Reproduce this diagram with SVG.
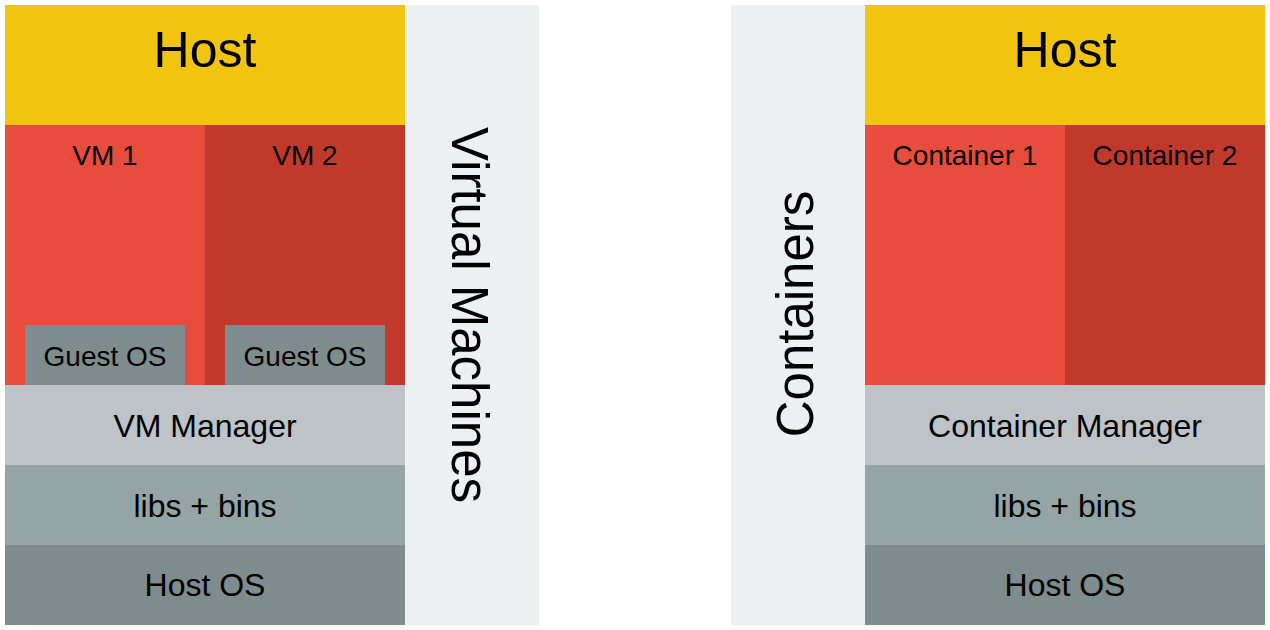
<svg xmlns="http://www.w3.org/2000/svg" width="1270" height="630" viewBox="0 0 1270 630">
<style>
text{font-family:"Liberation Sans",Arial,sans-serif;fill:#000;text-anchor:middle}
.big{font-size:50px}
.vert{font-size:51px}
.mid{font-size:32px}
.sm{font-size:28px}
.host{fill:#f1c40f}
.r1{fill:#e74c3c}
.r2{fill:#c0392b}
.guest{fill:#7f8c8d}
.mgr{fill:#bdc3c7}
.libs{fill:#95a5a6}
.hos{fill:#7f8c8d}
.side{fill:#ecf0f1}
</style>
<rect width="1270" height="630" fill="#fff"/>
<g id="vm-side"><rect class="side" x="405" y="5" width="134" height="620"/><text class="vert" transform="translate(452,315) rotate(90)">Virtual Machines</text></g>
<g id="vm-host"><rect class="host" x="5" y="5" width="400" height="120"/><text class="big" x="205" y="67">Host</text></g>
<g id="vm1"><rect class="r1" x="5" y="125" width="200" height="260"/><text class="sm" x="105" y="165">VM 1</text></g>
<g id="vm2"><rect class="r2" x="205" y="125" width="200" height="260"/><text class="sm" x="305" y="165">VM 2</text></g>
<g id="guest1"><rect class="guest" x="25" y="325" width="160" height="60"/><text class="sm" x="105" y="366">Guest OS</text></g>
<g id="guest2"><rect class="guest" x="225" y="325" width="160" height="60"/><text class="sm" x="305" y="366">Guest OS</text></g>
<g id="vm-manager"><rect class="mgr" x="5" y="385" width="400" height="80"/><text class="mid" x="205" y="437">VM Manager</text></g>
<g id="vm-libs"><rect class="libs" x="5" y="465" width="400" height="80"/><text class="mid" x="205" y="517">libs + bins</text></g>
<g id="vm-hostos"><rect class="hos" x="5" y="545" width="400" height="80"/><text class="mid" x="205" y="596">Host OS</text></g>

<g id="ct-side"><rect class="side" x="731" y="5" width="134" height="620"/><text class="vert" transform="translate(813,314) rotate(-90)">Containers</text></g>
<g id="ct-host"><rect class="host" x="865" y="5" width="400" height="120"/><text class="big" x="1065" y="67">Host</text></g>
<g id="ct1"><rect class="r1" x="865" y="125" width="200" height="260"/><text class="sm" x="965" y="165">Container 1</text></g>
<g id="ct2"><rect class="r2" x="1065" y="125" width="200" height="260"/><text class="sm" x="1165" y="165">Container 2</text></g>
<g id="ct-manager"><rect class="mgr" x="865" y="385" width="400" height="80"/><text class="mid" x="1065" y="437">Container Manager</text></g>
<g id="ct-libs"><rect class="libs" x="865" y="465" width="400" height="80"/><text class="mid" x="1065" y="517">libs + bins</text></g>
<g id="ct-hostos"><rect class="hos" x="865" y="545" width="400" height="80"/><text class="mid" x="1065" y="596">Host OS</text></g>
<g id="connectors"></g>
</svg>
